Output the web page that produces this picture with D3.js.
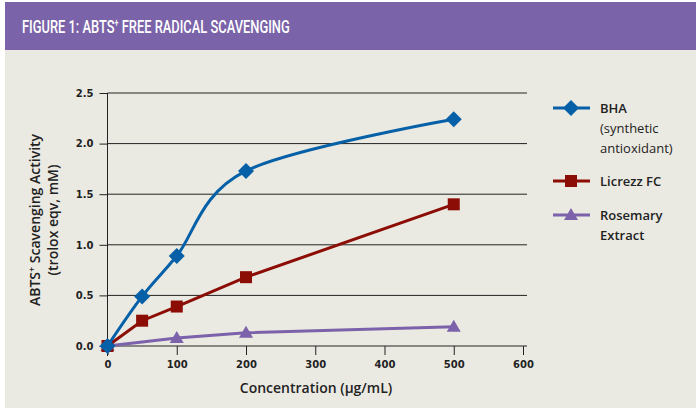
<!DOCTYPE html>
<html><head><meta charset="utf-8">
<script src="https://cdn.jsdelivr.net/npm/d3@7"></script>
<style>body{margin:0;background:#fff}svg{display:block}</style>
</head><body>
<svg id="c" width="696" height="408"></svg>
<script>
const concBHA = [0, 50, 100, 200, 500];
const valBHA = [0, 0.49, 0.89, 1.73, 2.24];
const concLic = [0, 50, 100, 200, 500];
const valLic = [0, 0.25, 0.39, 0.68, 1.40];
const concRos = [0, 100, 200, 500];
const valRos = [0, 0.08, 0.13, 0.19];
const xTicks = [0, 100, 200, 300, 400, 500, 600];
const yTicks = [0, 0.5, 1.0, 1.5, 2.0, 2.5];
const seriesNames = ["BHA", "Licrezz FC", "Rosemary Extract"];

const svg = d3.select("#c");
svg.append("rect").attr("x",5).attr("y",2).attr("width",691).attr("height",406).attr("fill","#EBEAE2");
svg.append("rect").attr("x",5).attr("y",2).attr("width",691).attr("height",48).attr("fill","#7A63A8");
const tg = svg.append("g");
const title = tg.append("text").attr("x",0).attr("y",0).attr("fill","#fff")
  .attr("font-family","Roboto, 'Open Sans', sans-serif").attr("font-weight",500).attr("font-size",18);
title.append("tspan").text("FIGURE 1: ABTS");
title.append("tspan").attr("font-size",10).attr("dy",-7).text("+");
title.append("tspan").attr("dy",7).text(" FREE RADICAL SCAVENGING");
const tw = title.node().getComputedTextLength();
tg.attr("transform",`translate(22,33) scale(${268/tw},1)`);

const x = d3.scaleLinear().domain([0,600]).range([107.5,523]);
const y = d3.scaleLinear().domain([0,2.5]).range([346,93]);

const g = svg.append("g");
g.selectAll("line.grid").data(yTicks.slice(1)).enter().append("line")
  .attr("x1",x(0)).attr("x2",527).attr("y1",d=>y(d)).attr("y2",d=>y(d))
  .attr("stroke","#222").attr("stroke-width",1);

const xAxis = g.append("g").attr("transform",`translate(0,${y(0)})`)
  .call(d3.axisBottom(x).tickValues(xTicks).tickSize(9).tickPadding(6).tickFormat(d3.format("d")));
xAxis.select(".domain").attr("d",`M${x(0)},0H527`).attr("stroke","#222");
const yAxis = g.append("g").attr("transform",`translate(${x(0)},0)`)
  .call(d3.axisLeft(y).tickValues(yTicks).tickSize(8).tickPadding(6).tickFormat(d3.format(".1f")));
yAxis.select(".domain").attr("d",`M0,${y(2.5)}V${y(0)+10}`).attr("stroke","#222");
[xAxis,yAxis].forEach(a=>{
  a.selectAll(".tick line").attr("stroke","#222");
  a.selectAll("text").attr("font-family","'DejaVu Sans', Verdana, sans-serif").attr("font-weight","bold").attr("font-size",10).attr("fill","#222");
});

svg.append("text").attr("x",316).attr("y",393).attr("text-anchor","middle")
  .attr("font-family","'Open Sans', sans-serif").attr("font-weight",600).attr("font-size",14).attr("fill","#222")
  .text("Concentration (µg/mL)");
const yt = svg.append("text").attr("transform","translate(0,220) rotate(-90)").attr("text-anchor","middle")
  .attr("font-family","'Open Sans', sans-serif").attr("font-weight",600).attr("font-size",14).attr("fill","#222");
const l1 = yt.append("tspan").attr("x",0).attr("y",40);
l1.append("tspan").text("ABTS");
l1.append("tspan").attr("font-size",9).attr("dy",-5).text("+");
l1.append("tspan").attr("dy",5).text(" Scavenging Activity");
yt.append("tspan").attr("x",0).attr("y",58).text("(trolox eqv, mM)");

const colors = ["#0660A8","#8B0D05","#7B62AA"];
const series = [
  {xs:concBHA, ys:valBHA, curve:d3.curveCardinal.tension(0), shape:"diamond"},
  {xs:concLic, ys:valLic, curve:d3.curveLinear, shape:"square"},
  {xs:concRos, ys:valRos, curve:d3.curveLinear, shape:"triangle"}
];
function marker(sel, shape, color){
  if(shape==="diamond") sel.append("path").attr("d","M0,-8L8,0L0,8L-8,0Z").attr("fill",color);
  else if(shape==="square") sel.append("rect").attr("x",-6).attr("y",-6).attr("width",12).attr("height",12).attr("fill",color);
  else sel.append("path").attr("d","M0,-7L7,5L-7,5Z").attr("fill",color);
}
series.slice().reverse().forEach((s,ri)=>{
  const i = series.length-1-ri;
  const pts = s.xs.map((v,k)=>[x(v),y(s.ys[k])]);
  g.append("path").attr("d",d3.line().curve(s.curve)(pts)).attr("fill","none")
    .attr("stroke",colors[i]).attr("stroke-width",3);
  pts.forEach(p=>{ marker(g.append("g").attr("transform",`translate(${p[0]},${p[1]})`), s.shape, colors[i]); });
});

const leg = [
  {y:108, lines:[["BHA",700],["(synthetic",400],["antioxidant)",400]]},
  {y:181, lines:[["Licrezz FC",700]]},
  {y:215, lines:[["Rosemary",700],["Extract",700]]}
];
leg.forEach((l,i)=>{
  svg.append("line").attr("x1",553).attr("x2",590).attr("y1",l.y).attr("y2",l.y).attr("stroke",colors[i]).attr("stroke-width",3);
  marker(svg.append("g").attr("transform",`translate(571,${l.y})`), series[i].shape, colors[i]);
  l.lines.forEach((t,k)=>{
    svg.append("text").attr("x",600).attr("y",l.y+5+k*20).attr("font-family","'Open Sans', sans-serif")
      .attr("font-weight",t[1]===700?600:400).attr("font-size",13).attr("fill","#222").text(t[0]);
  });
});
</script>
</body></html>
